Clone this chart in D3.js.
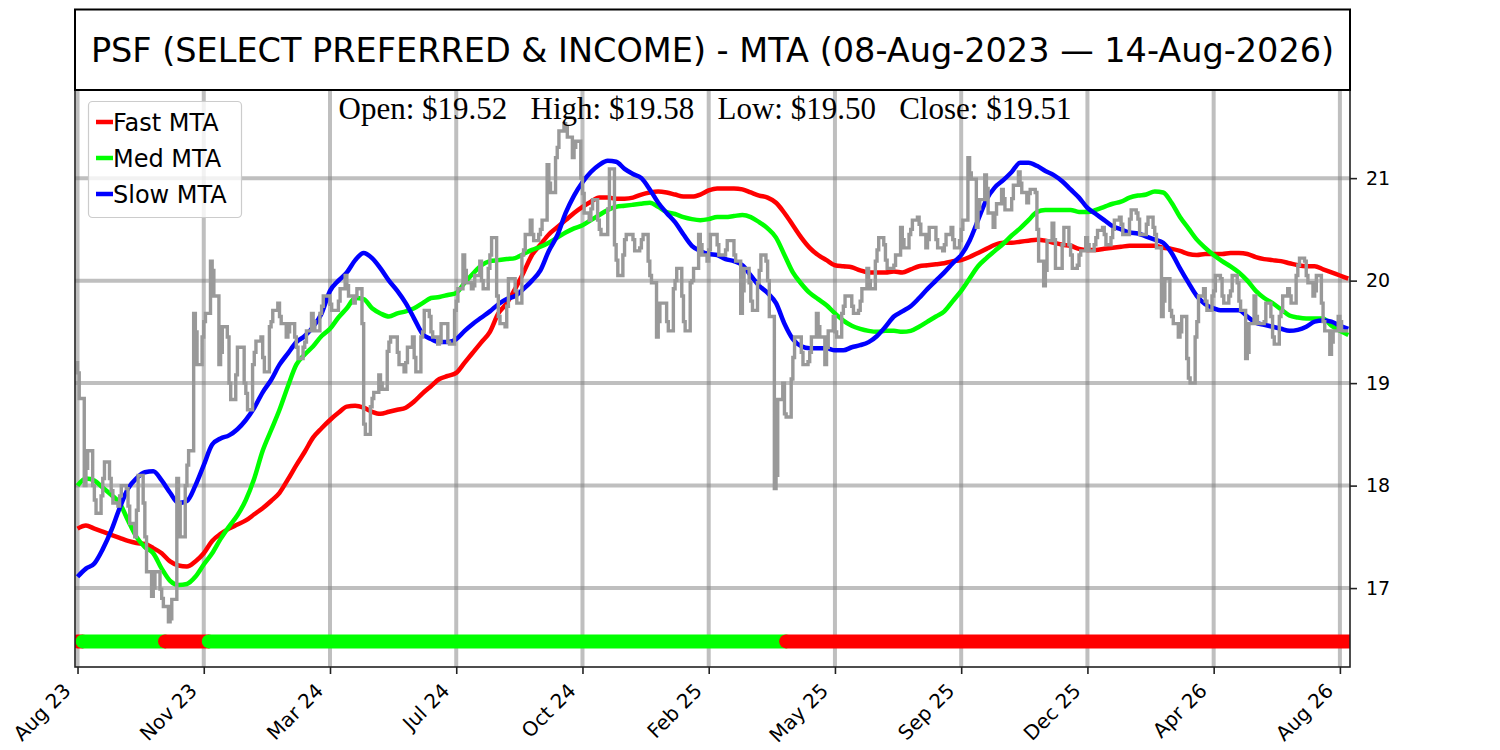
<!DOCTYPE html>
<html>
<head>
<meta charset="utf-8">
<script src="https://cdn.jsdelivr.net/npm/d3@7"></script>
<style>
  html, body { margin: 0; padding: 0; background: #fff; }
  svg { display: block; }
</style>
</head>
<body>
<div id="chart"></div>
<script>
// bar index of every x tick and the month shown under it
const tickIdx = [0, 75, 150, 225, 300, 375, 450, 525, 600, 675, 750];
const tickLabels = ["Aug 23", "Nov 23", "Mar 24", "Jul 24", "Oct 24", "Feb 25",
                    "May 25", "Sep 25", "Dec 25", "Apr 26", "Aug 26"];
const yTicks = [17, 18, 19, 20, 21];

// one reading every 5 bars, bar 0 .. 755
const step = 5;
const price = [
  19.1, 18.17, 17.86, 18.07, 17.95, 17.9, 17.8, 17.76, 17.5, 17.0,
  16.9, 16.7, 17.83, 18.2, 19.5, 19.6, 20.1, 19.3, 19.0, 19.35,
  18.9, 19.3, 19.25, 19.6, 19.65, 19.5, 19.35, 19.4, 19.6, 19.75,
  19.77, 19.8, 19.95, 19.85, 18.6, 18.85, 19.0, 19.4, 19.3, 19.2,
  19.25, 19.5, 19.5, 19.4, 19.4, 19.8, 20.1, 19.95, 20.0, 20.25,
  19.65, 19.75, 19.9, 20.3, 20.45, 20.5, 20.95, 21.3, 21.5, 21.3,
  20.85, 20.7, 20.5, 20.7, 20.2, 20.4, 20.4, 20.4, 20.05, 19.6,
  19.6, 20.0, 19.6, 20.0, 20.35, 20.3, 20.35, 20.3, 20.25, 19.9,
  19.8, 20.1, 20.0, 18.1, 18.7, 19.25, 19.3, 19.3, 19.55, 19.35,
  19.5, 19.75, 19.75, 19.8, 20.0, 20.3, 20.2, 20.15, 20.4, 20.5,
  20.55, 20.4, 20.4, 20.35, 20.4, 20.5, 21.05, 20.7, 20.9, 20.65,
  20.8, 20.8, 20.95, 20.85, 20.5, 20.1, 20.4, 20.35, 20.25, 20.25,
  20.35, 20.42, 20.45, 20.5, 20.55, 20.6, 20.6, 20.55, 20.45, 19.8,
  19.65, 19.5, 19.05, 19.6, 19.8, 19.9, 19.85, 19.9, 19.8, 19.3,
  19.65, 19.6, 19.45, 19.7, 19.85, 20.15, 20.05, 19.9, 19.6, 19.4,
  19.6, 19.51
];
// highest and lowest price seen around each reading
const priceHigh = [
  19.2, 18.34, 18.0, 18.23, 18.07, 18.0, 17.97, 18.1, 17.83, 17.16,
  16.99, 16.89, 18.07, 18.34, 19.68, 19.68, 20.19, 19.55, 19.45, 19.35,
  19.0, 19.41, 19.45, 19.71, 19.78, 19.58, 19.45, 19.51, 19.68, 19.85,
  19.85, 19.92, 20.05, 19.92, 19.58, 18.91, 19.08, 19.45, 19.45, 19.35,
  19.45, 19.71, 19.65, 19.58, 19.58, 19.92, 20.25, 20.05, 20.19, 20.42,
  19.85, 20.02, 20.02, 20.45, 20.59, 20.59, 21.13, 21.46, 21.53, 21.36,
  21.0, 20.79, 20.59, 21.09, 20.35, 20.45, 20.45, 20.45, 20.19, 19.78,
  19.78, 20.12, 19.85, 20.12, 20.45, 20.45, 20.45, 20.39, 20.39, 20.12,
  19.98, 20.25, 20.19, 18.84, 19.0, 19.45, 19.45, 19.45, 19.68, 19.51,
  19.65, 19.85, 19.85, 19.92, 20.12, 20.42, 20.35, 20.25, 20.52, 20.59,
  20.62, 20.52, 20.52, 20.45, 20.52, 20.59, 21.2, 20.79, 21.03, 20.75,
  20.89, 20.93, 21.06, 20.89, 20.86, 20.39, 20.56, 20.52, 20.35, 20.29,
  20.42, 20.49, 20.52, 20.59, 20.62, 20.69, 20.66, 20.62, 20.52, 20.02,
  19.71, 19.65, 19.24, 19.85, 19.92, 20.05, 20.02, 20.05, 19.98, 19.58,
  19.85, 19.78, 19.65, 19.85, 19.92, 20.22, 20.19, 20.05, 19.78, 19.51,
  19.65, 19.65
];
const priceLow = [
  18.85, 18.0, 17.73, 17.9, 17.83, 17.8, 17.63, 17.5, 17.16, 16.92,
  16.82, 16.67, 17.5, 18.0, 19.18, 19.45, 19.85, 19.18, 18.84, 19.08,
  18.74, 19.18, 19.11, 19.55, 19.58, 19.45, 19.24, 19.35, 19.51, 19.68,
  19.71, 19.71, 19.85, 19.78, 18.5, 18.77, 18.94, 19.31, 19.18, 19.11,
  19.11, 19.45, 19.45, 19.38, 19.38, 19.71, 19.98, 19.92, 19.92, 20.12,
  19.58, 19.55, 19.78, 20.25, 20.39, 20.45, 20.86, 21.2, 21.4, 21.2,
  20.66, 20.59, 20.45, 20.45, 20.05, 20.25, 20.29, 20.32, 19.98, 19.45,
  19.51, 19.92, 19.51, 19.98, 20.25, 20.19, 20.25, 20.25, 20.19, 19.68,
  19.71, 19.98, 19.65, 17.97, 18.67, 19.04, 19.18, 19.21, 19.45, 19.18,
  19.45, 19.68, 19.68, 19.71, 19.92, 20.19, 20.12, 20.12, 20.32, 20.45,
  20.45, 20.32, 20.32, 20.29, 20.32, 20.39, 20.99, 20.52, 20.66, 20.52,
  20.69, 20.69, 20.86, 20.76, 20.19, 19.95, 20.12, 20.12, 20.12, 20.15,
  20.29, 20.35, 20.35, 20.42, 20.45, 20.45, 20.45, 20.45, 20.32, 19.65,
  19.58, 19.45, 19.0, 19.45, 19.71, 19.85, 19.78, 19.85, 19.71, 19.24,
  19.58, 19.58, 19.38, 19.65, 19.78, 20.05, 19.98, 19.85, 19.51, 19.28,
  19.51, 19.51
];
const fastMTA = [
  17.58, 17.61, 17.58, 17.55, 17.52, 17.49, 17.46, 17.44, 17.43, 17.39,
  17.34, 17.26, 17.22, 17.21, 17.26, 17.34, 17.46, 17.53, 17.58, 17.62,
  17.66, 17.72, 17.78, 17.85, 17.93, 18.06, 18.2, 18.33, 18.47, 18.56,
  18.64, 18.71, 18.77, 18.78, 18.76, 18.72, 18.7, 18.72, 18.74, 18.76,
  18.82, 18.9, 18.97, 19.04, 19.07, 19.1, 19.2, 19.3, 19.4, 19.5,
  19.68, 19.78, 19.92, 20.08, 20.25, 20.35, 20.45, 20.52, 20.59, 20.66,
  20.72, 20.77, 20.81, 20.81, 20.8, 20.8, 20.81, 20.84, 20.86, 20.87,
  20.86, 20.84, 20.82, 20.82, 20.84, 20.88, 20.9, 20.9, 20.9, 20.89,
  20.86, 20.83, 20.81, 20.76, 20.66, 20.54, 20.42, 20.32, 20.25, 20.2,
  20.15, 20.14, 20.13, 20.1, 20.08, 20.08, 20.08, 20.09, 20.08, 20.11,
  20.14, 20.15, 20.16, 20.17, 20.19, 20.2, 20.23, 20.27, 20.31, 20.35,
  20.37, 20.37, 20.38, 20.39, 20.4, 20.39, 20.37, 20.35, 20.34, 20.31,
  20.3, 20.3, 20.31, 20.32, 20.33, 20.34, 20.34, 20.34, 20.34, 20.32,
  20.31, 20.29, 20.26, 20.25, 20.26, 20.26, 20.26, 20.27, 20.27, 20.26,
  20.23, 20.21, 20.2, 20.19, 20.17, 20.15, 20.14, 20.14, 20.11, 20.08,
  20.05, 20.02
];
const medMTA = [
  18.0, 18.07, 18.05, 17.98, 17.91, 17.83, 17.66, 17.5, 17.4, 17.34,
  17.19, 17.07, 17.03, 17.04, 17.11, 17.23, 17.34, 17.48, 17.6, 17.71,
  17.86, 18.07, 18.34, 18.54, 18.74, 18.97, 19.18, 19.28, 19.36, 19.46,
  19.53, 19.64, 19.73, 19.83, 19.82, 19.73, 19.68, 19.65, 19.68, 19.7,
  19.73, 19.78, 19.83, 19.84, 19.86, 19.88, 19.98, 20.07, 20.15, 20.19,
  20.2, 20.21, 20.22, 20.26, 20.3, 20.33, 20.37, 20.42, 20.47, 20.51,
  20.54, 20.59, 20.64, 20.69, 20.72, 20.73, 20.74, 20.75, 20.76, 20.72,
  20.67, 20.65, 20.62, 20.6, 20.59, 20.6, 20.62, 20.62, 20.63, 20.64,
  20.62, 20.57, 20.51, 20.42, 20.25, 20.08, 19.97, 19.88, 19.82, 19.76,
  19.68, 19.61, 19.56, 19.53, 19.51, 19.5, 19.51, 19.51, 19.5, 19.51,
  19.55, 19.6, 19.65, 19.7, 19.8, 19.9, 20.02, 20.14, 20.22, 20.29,
  20.36, 20.44, 20.51, 20.59, 20.67, 20.69, 20.69, 20.69, 20.69, 20.67,
  20.67, 20.69, 20.72, 20.75, 20.77, 20.81, 20.83, 20.84, 20.87, 20.86,
  20.76, 20.62, 20.51, 20.4, 20.32, 20.25, 20.19, 20.14, 20.08, 20.0,
  19.9, 19.83, 19.78, 19.72, 19.66, 19.64, 19.63, 19.63, 19.63, 19.56,
  19.51, 19.47
];
const slowMTA = [
  17.11, 17.19, 17.24, 17.38, 17.56, 17.78, 17.97, 18.07, 18.13, 18.14,
  18.05, 17.93, 17.83, 17.85, 18.0, 18.2, 18.4, 18.46, 18.49, 18.55,
  18.64, 18.76, 18.91, 19.03, 19.18, 19.29, 19.4, 19.46, 19.55, 19.68,
  19.9, 20.0, 20.08, 20.2, 20.27, 20.22, 20.12, 20.0, 19.9, 19.78,
  19.63, 19.48, 19.43, 19.4, 19.4, 19.43, 19.51, 19.58, 19.64, 19.7,
  19.77, 19.82, 19.85, 19.92, 20.0, 20.1, 20.29, 20.44, 20.66, 20.83,
  20.96, 21.06, 21.13, 21.17, 21.16, 21.09, 21.04, 21.0, 20.89, 20.76,
  20.66, 20.57, 20.45, 20.34, 20.29, 20.26, 20.25, 20.21, 20.19, 20.15,
  20.05, 19.95, 19.88, 19.78, 19.58, 19.43, 19.36, 19.34, 19.34, 19.34,
  19.32, 19.32, 19.35, 19.37, 19.4, 19.46, 19.55, 19.65, 19.7, 19.75,
  19.83, 19.92, 20.0, 20.08, 20.17, 20.25, 20.39, 20.59, 20.79, 20.91,
  20.98, 21.06, 21.15, 21.15, 21.12, 21.07, 21.03, 20.97, 20.89, 20.81,
  20.71, 20.65, 20.59, 20.53, 20.5, 20.47, 20.46, 20.43, 20.4, 20.37,
  20.27, 20.12, 19.98, 19.85, 19.77, 19.73, 19.71, 19.71, 19.71, 19.65,
  19.59, 19.57, 19.55, 19.53, 19.51, 19.52, 19.55, 19.6, 19.61, 19.6,
  19.56, 19.53
];

// trend strip along the bottom: first bar, last bar, state
const trendStart = [0, 3, 52, 78, 421];
const trendEnd = [3, 52, 78, 421, 756];
const trendState = ["down", "up", "down", "up", "down"];
const trendLevel = 16.48;

const seriesNames = ["Fast MTA", "Med MTA", "Slow MTA"];
const seriesColors = ["#ff0000", "#00ff00", "#0000ff"];
const ohlcText = "Open: $19.52   High: $19.58   Low: $19.50   Close: $19.51";
const titleText = "PSF (SELECT PREFERRED & INCOME) - MTA (08-Aug-2023 \u2014 14-Aug-2026)";

const width = 1500, height = 750;
const box = {left: 75, right: 1350, top: 90, bottom: 667};

const x = d3.scaleLinear().domain([-1.5, 756]).range([box.left, box.right]);
const y = d3.scaleLinear().domain([16.23, 21.86]).range([box.bottom, box.top]);

const svg = d3.select("#chart").append("svg")
    .attr("width", width)
    .attr("height", height)
    .attr("font-family", "DejaVu Sans, sans-serif");

svg.append("defs").append("clipPath").attr("id", "plotclip")
  .append("rect")
    .attr("x", box.left).attr("y", box.top)
    .attr("width", box.right - box.left).attr("height", box.bottom - box.top);

// grid
const grid = svg.append("g").attr("stroke", "#808080").attr("stroke-opacity", 0.5).attr("stroke-width", 4);
grid.selectAll(".vx").data(tickIdx).join("line")
    .attr("x1", d => x(d)).attr("x2", d => x(d))
    .attr("y1", box.top).attr("y2", box.bottom);
grid.selectAll(".hy").data(yTicks).join("line")
    .attr("x1", box.left).attr("x2", box.right)
    .attr("y1", d => y(d)).attr("y2", d => y(d));

const plot = svg.append("g").attr("clip-path", "url(#plotclip)");

// trend strip
plot.selectAll(".trend").data(trendStart).join("line")
    .attr("x1", d => x(d))
    .attr("x2", (d, i) => x(trendEnd[i]))
    .attr("y1", y(trendLevel)).attr("y2", y(trendLevel))
    .attr("stroke", (d, i) => trendState[i] === "up" ? "#00ff00" : "#ff0000")
    .attr("stroke-width", 14)
    .attr("stroke-linecap", "round");

// moving averages
const mta = d3.line()
    .x((d, i) => x(i * step))
    .y(d => y(d))
    .curve(d3.curveMonotoneX);

[fastMTA, medMTA, slowMTA].forEach((s, k) => {
  plot.append("path")
      .attr("d", mta(s))
      .attr("fill", "none")
      .attr("stroke", seriesColors[k])
      .attr("stroke-width", 4.5)
      .attr("stroke-linejoin", "round");
});

// price: swing through each window's high and low, passing the reading
const pricePts = price.flatMap((c, i) => {
  const b = i * step;
  const a = i % 2 ? priceLow[i] : priceHigh[i];
  const z = i % 2 ? priceHigh[i] : priceLow[i];
  if (i === price.length - 1) return [[b - 1, a], [b, c]];
  return [[b - 1, a], [b, c], [b + 1, z]];
});
plot.append("path")
    .attr("d", d3.line().x(d => x(d[0])).y(d => y(d[1])).curve(d3.curveStepAfter)(pricePts))
    .attr("fill", "none")
    .attr("stroke", "#999999")
    .attr("stroke-width", 3.4);

// frame
svg.append("rect")
    .attr("x", box.left).attr("y", box.top)
    .attr("width", box.right - box.left).attr("height", box.bottom - box.top)
    .attr("fill", "none").attr("stroke", "#222").attr("stroke-width", 1.6);

// x axis
const xAxis = svg.append("g")
    .attr("transform", `translate(0,${box.bottom})`)
    .call(d3.axisBottom(x).tickValues(tickIdx).tickFormat((d, i) => tickLabels[i]).tickSize(7));
xAxis.select(".domain").remove();
xAxis.selectAll(".tick line").attr("stroke", "#222").attr("stroke-width", 1.6);
xAxis.selectAll(".tick text")
    .attr("font-size", 20)
    .attr("font-family", "DejaVu Sans, sans-serif")
    .attr("fill", "#000")
    .attr("text-anchor", "end")
    .attr("x", 0).attr("y", 0).attr("dy", null)
    .attr("transform", "translate(-6,25) rotate(-45)");

// y axis on the right
const yAxis = svg.append("g")
    .attr("transform", `translate(${box.right},0)`)
    .call(d3.axisRight(y).tickValues(yTicks).tickFormat(d3.format("d")).tickSize(7).tickPadding(9));
yAxis.select(".domain").remove();
yAxis.selectAll(".tick line").attr("stroke", "#222").attr("stroke-width", 1.6);
yAxis.selectAll(".tick text")
    .attr("font-size", 19)
    .attr("font-family", "DejaVu Sans, sans-serif")
    .attr("fill", "#000");

// title box
svg.append("rect")
    .attr("x", box.left).attr("y", 9.5)
    .attr("width", box.right - box.left).attr("height", box.top - 9.5)
    .attr("fill", "#fff").attr("stroke", "#000").attr("stroke-width", 2);
svg.append("text")
    .attr("x", (box.left + box.right) / 2).attr("y", 62)
    .attr("text-anchor", "middle")
    .attr("font-size", 33.5)
    .text(titleText);

// last bar prices
svg.append("text")
    .attr("x", 705).attr("y", 119)
    .attr("text-anchor", "middle")
    .attr("font-family", "Liberation Serif, Times New Roman, serif")
    .attr("font-size", 31)
    .style("white-space", "pre")
    .text(ohlcText);

// legend
const legend = svg.append("g");
legend.append("rect")
    .attr("x", 88.5).attr("y", 101.5).attr("width", 153).attr("height", 116)
    .attr("rx", 4)
    .attr("fill", "#fff").attr("fill-opacity", 0.8)
    .attr("stroke", "#cccccc").attr("stroke-width", 1.2);
const item = legend.selectAll(".item").data(seriesNames).join("g")
    .attr("transform", (d, i) => `translate(0,${131 + i * 36})`);
item.append("line")
    .attr("x1", 96).attr("x2", 113)
    .attr("y1", -9).attr("y2", -9)
    .attr("stroke", (d, i) => seriesColors[i])
    .attr("stroke-width", 4.5);
item.append("text")
    .attr("x", 113).attr("y", 0)
    .attr("font-size", 24)
    .text(d => d);
</script>
</body>
</html>
